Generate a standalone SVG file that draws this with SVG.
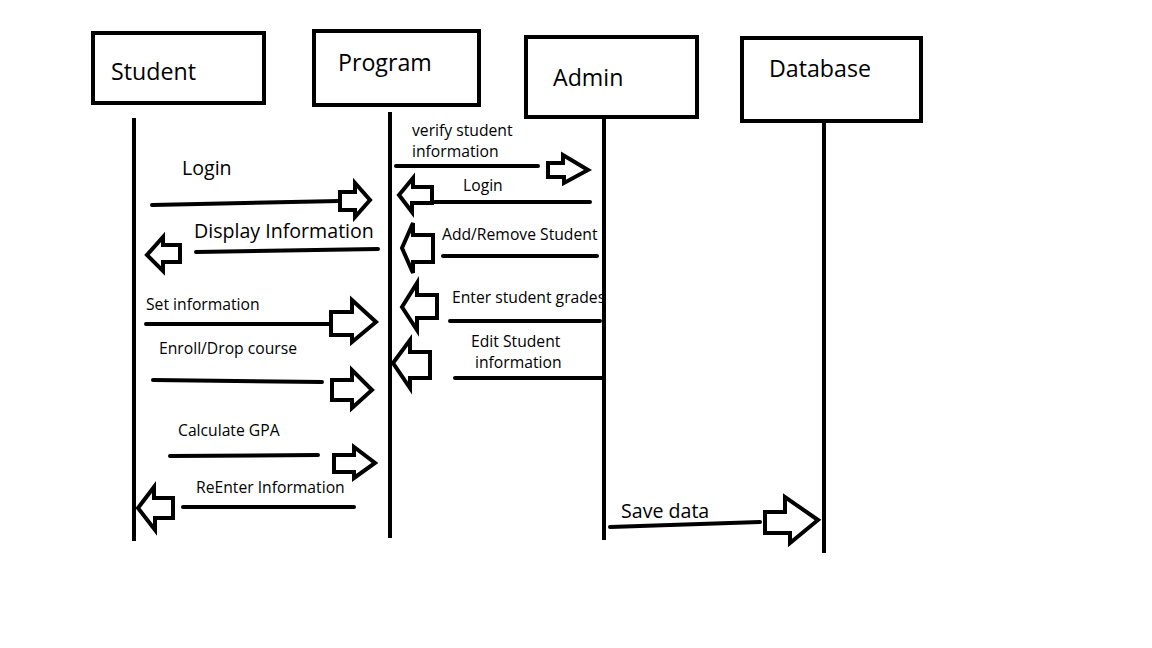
<svg xmlns="http://www.w3.org/2000/svg" width="1152" height="648" viewBox="0 0 1152 648">
<style>
.box{fill:#fff;stroke:#000;stroke-width:4}
.life{stroke:#000;stroke-width:4;fill:none}
.msg{stroke:#000;stroke-width:4;fill:none;stroke-linecap:round}
.arr{fill:#fff;stroke:#000;stroke-width:4;stroke-linejoin:miter}
.h{font-family:"Open Sans","Noto Sans",sans-serif;font-size:23.2px;fill:#000}
.l{font-family:"Open Sans","Noto Sans",sans-serif;font-size:19.6px;fill:#000}
.s{font-family:"Open Sans","Noto Sans",sans-serif;font-size:15.7px;fill:#000}
</style>
<rect width="1152" height="648" fill="#fff"/>
<g id="student"><rect class="box" x="93" y="33" width="171" height="70"/><text class="h" x="111" y="80">Student</text><line class="life" x1="134" y1="118" x2="134" y2="541"/></g>
<g id="program"><rect class="box" x="314" y="31" width="165" height="74"/><text class="h" x="338" y="71">Program</text><line class="life" x1="390" y1="112" x2="390" y2="538"/></g>
<g id="admin"><rect class="box" x="526" y="37" width="171" height="80"/><text class="h" x="553" y="86">Admin</text><line class="life" x1="604" y1="118" x2="604" y2="540"/></g>
<g id="database"><rect class="box" x="742" y="38" width="179" height="83"/><text class="h" x="769" y="77">Database</text><line class="life" x1="824" y1="120" x2="824" y2="553"/></g>
<g id="connectors">
<text class="l" x="182" y="175">Login</text>
<line class="msg" x1="152" y1="205" x2="340" y2="201"/>
<polygon class="arr" points="340,192 355,192 355,183 370,200 355,217 355,210 340,210"/>
<text class="l" x="194" y="238">Display Information</text>
<line class="msg" x1="196" y1="252" x2="378" y2="249"/>
<polygon class="arr" points="180,245 163,245 163,237 147,255 163,271 163,262 180,262"/>
<text class="s" x="146" y="310">Set information</text>
<line class="msg" x1="146" y1="324" x2="330" y2="324"/>
<polygon class="arr" points="331,312 352,312 352,300 376,322 352,342 352,335 331,335"/>
<text class="s" x="159" y="354">Enroll/Drop course</text>
<line class="msg" x1="153" y1="380" x2="322" y2="382"/>
<polygon class="arr" points="332,380 352,380 352,370 372,390 352,408 352,400 332,400"/>
<text class="s" x="178" y="436">Calculate GPA</text>
<line class="msg" x1="170" y1="456" x2="318" y2="455"/>
<polygon class="arr" points="334,455 354,455 354,447 375,463 354,478 354,472 334,472"/>
<text class="s" x="196" y="493">ReEnter Information</text>
<line class="msg" x1="183" y1="507" x2="354" y2="507"/>
<polygon class="arr" points="173,498 154,498 154,487 138,508 155,530 155,518 173,518"/>
<text class="s" x="412" y="136">verify student</text>
<text class="s" x="412" y="157">information</text>
<line class="msg" x1="396" y1="166" x2="538" y2="166"/>
<polygon class="arr" points="548,163 563,163 563,155 588,170 564,183 564,177 548,177"/>
<text class="s" x="463" y="191">Login</text>
<line class="msg" x1="430" y1="202" x2="590" y2="202"/>
<polygon class="arr" points="432,187 413,187 413,178 399,195 412,212 412,203 432,203"/>
<text class="s" x="442" y="240">Add/Remove Student</text>
<line class="msg" x1="443" y1="256" x2="597" y2="256"/>
<polygon class="arr" points="433,235 413,235 413,223 402,248 413,273 413,262 433,262"/>
<text class="s" x="452" y="303">Enter student grades</text>
<line class="msg" x1="450" y1="321" x2="600" y2="321"/>
<polygon class="arr" points="437,295 417,295 417,283 402,307 417,330 417,318 437,318"/>
<text class="s" x="471" y="347">Edit Student</text>
<text class="s" x="475" y="368">information</text>
<line class="msg" x1="455" y1="378" x2="603" y2="378"/>
<polygon class="arr" points="430,352 410,352 410,340 393,363 410,388 410,378 430,378"/>
<text class="l" x="621" y="518">Save data</text>
<line class="msg" x1="610" y1="527" x2="760" y2="522"/>
<polygon class="arr" points="765,512 785,512 785,497 818,520 790,543 790,533 765,533"/>
</g>
</svg>
